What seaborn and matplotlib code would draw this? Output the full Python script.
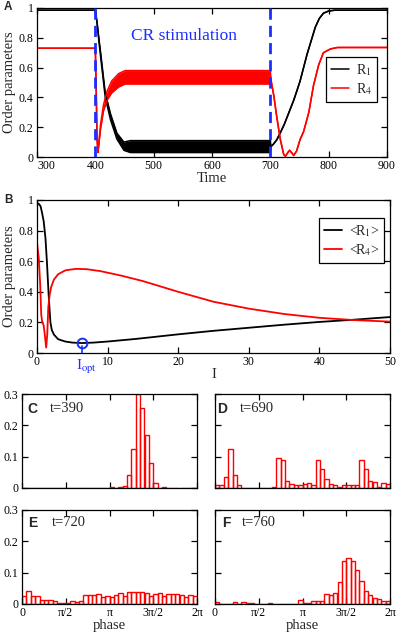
import numpy as np
import pandas as pd
import matplotlib
matplotlib.use("Agg")
import matplotlib.pyplot as plt
import seaborn as sns
from matplotlib.lines import Line2D

# ---------------- Panel A data (time courses) ----------------
r1_t  = [300, 400, 403, 406, 410, 417, 426, 437, 449, 460, 700, 701, 705, 711, 718, 724, 729,
         735, 740, 746, 751, 757, 763, 770, 777, 784, 791, 800, 810, 900]
r1_lo = [0.985, 0.985, 0.90, 0.78, 0.64, 0.40, 0.25, 0.12, 0.045, 0.03, 0.03, 0.07, 0.085, 0.115,
         0.17, 0.22, 0.27, 0.33, 0.38, 0.45, 0.51, 0.60, 0.69, 0.78, 0.87, 0.93, 0.965, 0.98, 0.985, 0.985]
r1_hi = [0.985, 0.985, 0.90, 0.80, 0.67, 0.43, 0.29, 0.16, 0.10, 0.11, 0.11, 0.07, 0.085, 0.115,
         0.17, 0.22, 0.27, 0.33, 0.38, 0.45, 0.51, 0.60, 0.69, 0.78, 0.87, 0.93, 0.965, 0.98, 0.985, 0.985]

r4_t  = [300, 400, 401.5, 403, 404.5, 406, 409, 414, 420, 428, 440, 451, 700, 701, 706, 711,
         717, 723, 726, 730, 733, 737, 740, 745, 751, 757, 766, 774, 783, 791, 803, 815, 900]
r4_lo = [0.73, 0.73, 0.45, 0.12, 0.03, 0.08, 0.19, 0.31, 0.38, 0.43, 0.47, 0.49, 0.49, 0.52, 0.41, 0.27,
         0.12, 0.016, 0.005, 0.03, 0.045, 0.027, 0.01, 0.04, 0.117, 0.17, 0.30, 0.48, 0.62, 0.70, 0.725, 0.735, 0.735]
r4_hi = [0.73, 0.73, 0.45, 0.12, 0.03, 0.10, 0.22, 0.35, 0.44, 0.51, 0.56, 0.58, 0.58, 0.52, 0.41, 0.27,
         0.12, 0.016, 0.005, 0.03, 0.045, 0.027, 0.01, 0.04, 0.117, 0.17, 0.30, 0.48, 0.62, 0.70, 0.725, 0.735, 0.735]
stim_times = [400, 700]

# ---------------- Panel B data (averages vs intensity) ----------------
I_b1 = [0, 0.25, 0.5, 0.7, 0.95, 1.2, 1.4, 1.65, 1.9, 2.1, 2.4, 3.0, 4.0, 5.0, 6.4, 8, 10, 14,
        20, 25, 30, 35, 40, 45, 50]
R1_b = [0.98, 0.975, 0.96, 0.92, 0.86, 0.75, 0.60, 0.38, 0.20, 0.15, 0.12, 0.09, 0.075, 0.068,
        0.065, 0.068, 0.075, 0.092, 0.122, 0.145, 0.165, 0.185, 0.203, 0.218, 0.235]
I_b4 = [0, 0.25, 0.45, 0.6, 0.75, 0.95, 1.1, 1.3, 1.45, 1.6, 1.8, 2.0, 2.4, 3.0, 4.0, 5.5, 7, 9,
        12, 15, 20, 25, 30, 35, 40, 45, 50]
R4_b = [0.72, 0.62, 0.45, 0.25, 0.20, 0.18, 0.12, 0.035, 0.12, 0.30, 0.38, 0.43, 0.48, 0.515,
        0.54, 0.55, 0.548, 0.535, 0.505, 0.47, 0.40, 0.335, 0.29, 0.255, 0.23, 0.215, 0.205]
I_opt = 6.4
R1_opt = 0.066

# ---------------- Panels C-F data (phase histograms, 40 bins) ----------------
hist_C = [0]*20 + [0.004, 0.001, 0.003, 0.006, 0.042, 0.125, 0.30, 0.255, 0.17, 0.08,
                   0.017, 0.0, 0.004] + [0]*7
hist_D = [0.008, 0.008, 0.036, 0.125, 0.041, 0.009, 0, 0, 0, 0, 0, 0, 0,
          0.002, 0.095, 0.09, 0.021, 0.014, 0.009, 0.008, 0.013, 0.016, 0.011, 0.088, 0.06,
          0.03, 0.013, 0.009, 0.003, 0.011, 0.009, 0.009, 0.011, 0.088, 0.06, 0.023, 0.019,
          0.003, 0.015, 0.013]
hist_E = [0.027, 0.040, 0.025, 0.024, 0.012, 0.012, 0.014, 0.011, 0.003, 0.003, 0.004, 0.008,
          0.007, 0.011, 0.029, 0.029, 0.029, 0.033, 0.021, 0.024, 0.022, 0.028, 0.035, 0.024,
          0.038, 0.038, 0.038, 0.038, 0.035, 0.024, 0.033, 0.035, 0.024, 0.032, 0.032, 0.032,
          0.028, 0.021, 0.028, 0.026]
hist_F = [0.006, 0, 0, 0, 0.006, 0.001, 0.006, 0.002, 0.002, 0.001, 0, 0, 0.002, 0, 0, 0, 0,
          0, 0, 0.012, 0.002, 0.002, 0.008, 0.008, 0.011, 0.032, 0.028, 0.034, 0.07, 0.136,
          0.148, 0.138, 0.11, 0.072, 0.042, 0.03, 0.02, 0.015, 0.01, 0.008]
hist_titles = ["t=390", "t=690", "t=720", "t=760"]
hist_letters = ["C", "D", "E", "F"]
phase_ticks = ["0", "\u03c0/2", "\u03c0", "3\u03c0/2", "2\u03c0"]

# ---------------- Style ----------------
sns.set_theme(style="ticks")
plt.rcParams.update({
    'font.family': ['Liberation Serif', 'DejaVu Serif'],
    'mathtext.fontset': 'stix',
    'xtick.direction': 'in', 'ytick.direction': 'in',
    'xtick.top': True, 'ytick.right': True,
    'axes.linewidth': 0.9, 'axes.edgecolor': 'black',
    'xtick.color': 'black', 'ytick.color': 'black',
    'xtick.major.size': 4.5, 'ytick.major.size': 4.5,
    'xtick.major.width': 0.9, 'ytick.major.width': 0.9,
    'xtick.labelsize': 8.5, 'ytick.labelsize': 8.5,
    'axes.labelsize': 10.5,
    'xtick.major.pad': 2.5, 'ytick.major.pad': 2.5,
    'axes.facecolor': 'white', 'figure.facecolor': 'white',
})

BLUE = '#1a2fff'
RED = '#ff0000'
W, H = 397, 636
fig = plt.figure(figsize=(W / 100, H / 100), dpi=100)


def box(l, t, r, b):
    return [l / W, 1 - b / H, (r - l) / W, (b - t) / H]


# ---------------- Panel A ----------------
axA = fig.add_axes(box(37, 8, 387, 157))
axA.fill_between(r1_t, r1_lo, r1_hi, color='black', lw=0)
axA.fill_between(r4_t, r4_lo, r4_hi, color=RED, lw=0)
for yy in (r1_lo, r1_hi):
    sns.lineplot(x=r1_t, y=yy, color='black', lw=1.1, estimator=None, sort=False, ax=axA)
for yy in (r4_lo, r4_hi):
    sns.lineplot(x=r4_t, y=yy, color=RED, lw=1.1, estimator=None, sort=False, ax=axA)
for ts in stim_times:
    axA.axvline(ts, color=BLUE, lw=2.0, ls=(0, (4, 2.2)), zorder=5)
axA.set_xlim(300, 900)
axA.set_ylim(0, 1)
axA.set_xticks([300, 400, 500, 600, 700, 800, 900])
axA.set_yticks([0, 0.2, 0.4, 0.6, 0.8, 1])
axA.set_yticklabels(["0", "0.2", "0.4", "0.6", "0.8", "1"])
axA.set_xlabel("Time", labelpad=0)
axA.set_ylabel("Order parameters", labelpad=2)
axA.get_xticklabels()[0].set_horizontalalignment('left')
axA.text(552, 0.81, "CR stimulation", color=BLUE, fontsize=12.5, ha='center', va='center')
hA = [Line2D([], [], color='black', lw=1.1), Line2D([], [], color=RED, lw=1.1)]
legA = axA.legend(hA, ["R$_1$", "R$_4$"], loc='upper left', bbox_to_anchor=(0.826, 0.67),
                  fancybox=False, edgecolor='black', framealpha=1, fontsize=10,
                  handlelength=1.3, handletextpad=0.5, borderpad=0.35, labelspacing=0.25,
                  borderaxespad=0)
legA.get_frame().set_linewidth(0.9)

# ---------------- Panel B ----------------
axB = fig.add_axes(box(37, 200, 390, 353))
sns.lineplot(x=I_b1, y=R1_b, color='black', lw=1.3, estimator=None, sort=False, ax=axB)
sns.lineplot(x=I_b4, y=R4_b, color=RED, lw=1.3, estimator=None, sort=False, ax=axB)
axB.plot([I_opt, I_opt], [0, R1_opt - 0.02], color=BLUE, lw=1.2, zorder=4)
axB.plot([I_opt], [R1_opt], marker='o', ms=7, mfc='none', mec=BLUE, mew=1.4, zorder=5)
axB.text(5.5, -0.03, r"I$_{\mathrm{opt}}$", color=BLUE, fontsize=11, ha='left', va='top')
axB.set_xlim(0, 50)
axB.set_ylim(0, 1)
axB.set_xticks([0, 10, 20, 30, 40, 50])
axB.set_yticks([0, 0.2, 0.4, 0.6, 0.8, 1])
axB.set_yticklabels(["0", "0.2", "0.4", "0.6", "0.8", "1"])
axB.set_xlabel("I", labelpad=0)
axB.set_ylabel("Order parameters", labelpad=2)
hB = [Line2D([], [], color='black', lw=1.3), Line2D([], [], color=RED, lw=1.3)]
legB = axB.legend(hB, ["<R$_1$>", "<R$_4$>"], loc='upper left', bbox_to_anchor=(0.799, 0.882),
                  fancybox=False, edgecolor='black', framealpha=1, fontsize=10,
                  handlelength=1.3, handletextpad=0.5, borderpad=0.35, labelspacing=0.25,
                  borderaxespad=0)
legB.get_frame().set_linewidth(0.9)

# ---------------- Panels C-F ----------------
nb = 40
edges = np.linspace(0, 2 * np.pi, nb + 1)
centers = 0.5 * (edges[:-1] + edges[1:])
boxes = [box(22, 394, 197, 488), box(215, 394, 390, 488),
         box(22, 510, 197, 604), box(215, 510, 390, 604)]
hists = [hist_C, hist_D, hist_E, hist_F]
letter_x = [0.03, 0.015, 0.035, 0.04]
title_x = [0.16, 0.14, 0.17, 0.155]
text_y = [0.84, 0.84, 0.86, 0.86]
for i, (bx, hv) in enumerate(zip(boxes, hists)):
    ax = fig.add_axes(bx)
    df = pd.DataFrame({"phase": centers, "p": hv})
    sns.histplot(data=df, x="phase", weights="p", bins=nb, binrange=(0, 2 * np.pi),
                 fill=False, element='bars', color=RED, linewidth=1.0, ax=ax)
    ax.set_xlim(0, 2 * np.pi)
    ax.set_ylim(0, 0.3)
    ax.set_xticks([0, np.pi / 2, np.pi, 1.5 * np.pi, 2 * np.pi])
    ax.set_yticks([0, 0.1, 0.2, 0.3])
    ax.set_ylabel("")
    if i % 2 == 0:
        ax.set_yticklabels(["0", "0.1", "0.2", "0.3"])
    else:
        ax.set_yticklabels([])
    if i >= 2:
        ax.set_xticklabels(phase_ticks)
        ax.set_xlabel("phase", labelpad=0)
    else:
        ax.set_xticklabels([])
        ax.set_xlabel("")
    ax.text(letter_x[i], text_y[i], hist_letters[i], transform=ax.transAxes,
            fontsize=10, fontweight='bold', family=['Liberation Sans', 'DejaVu Sans'],
            ha='left', va='center')
    ax.text(title_x[i], text_y[i] + 0.01, hist_titles[i], transform=ax.transAxes,
            fontsize=10.5, ha='left', va='center')

# panel letters A, B
fig.text(4 / W, 1 - 7 / H, "A", fontsize=8.5, fontweight='bold',
         family=['Liberation Sans', 'DejaVu Sans'], ha='left', va='center')
fig.text(4 / W, 1 - 200 / H, "B", fontsize=8.5, fontweight='bold',
         family=['Liberation Sans', 'DejaVu Sans'], ha='left', va='center')

fig.savefig("out.png", dpi=100)
